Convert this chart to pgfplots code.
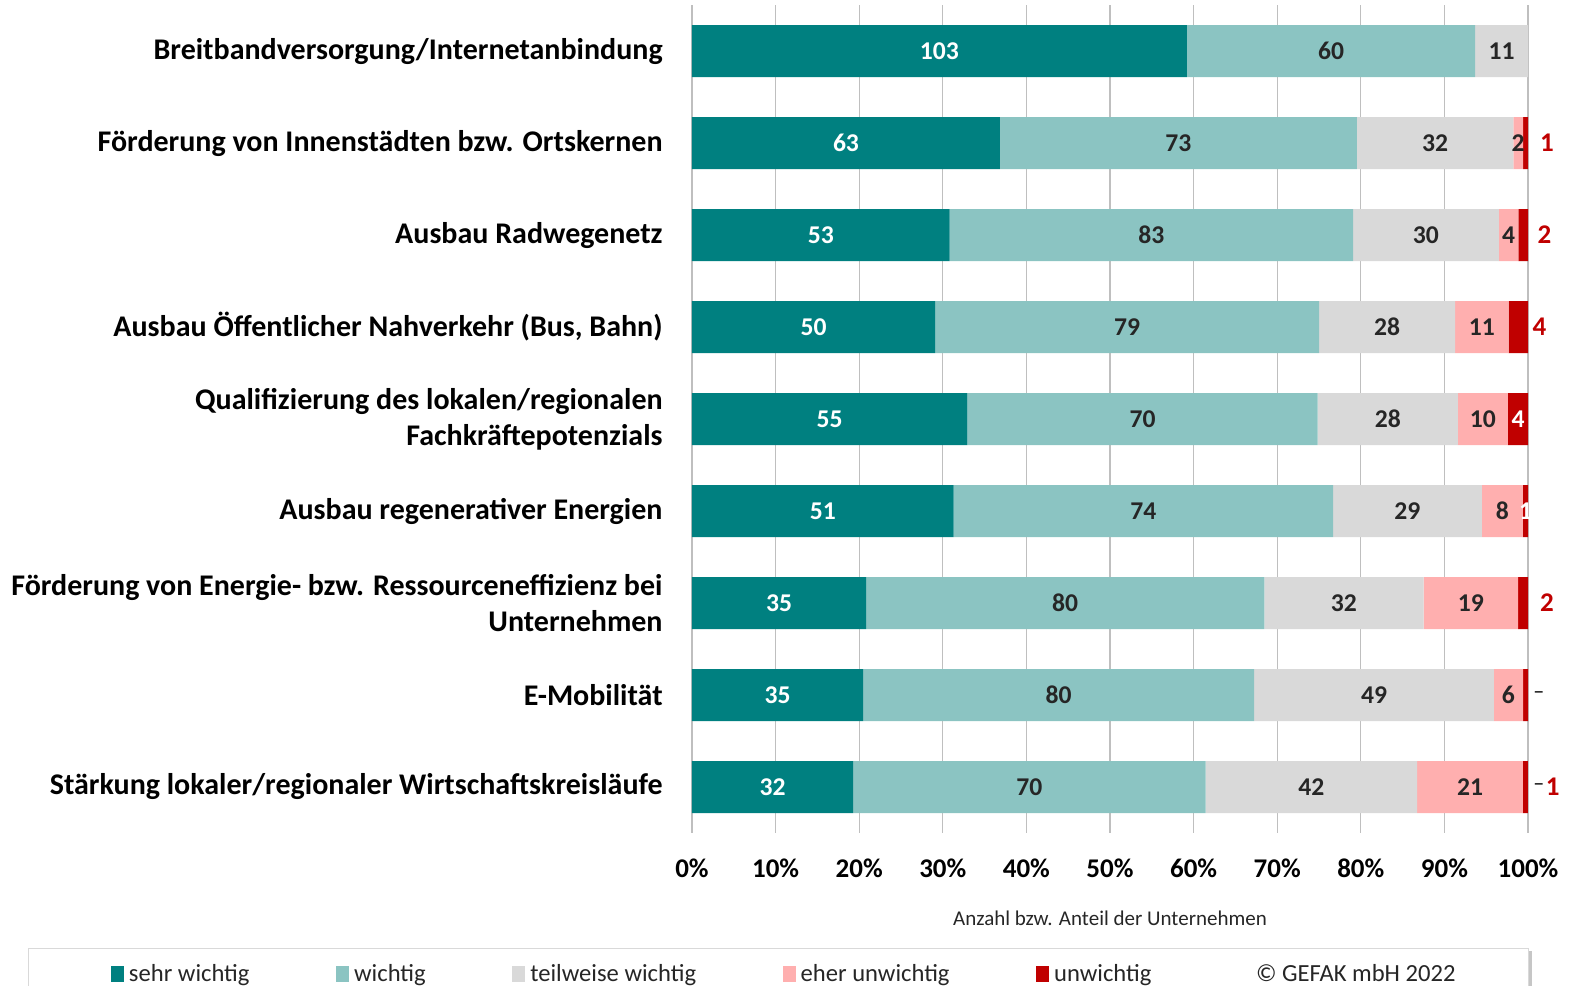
\documentclass[border=0pt]{standalone}
\usepackage{pgfplots}
\pgfplotsset{compat=1.18}
\usepackage{pgfplotstable}
\usepackage{fontspec}
\setmainfont{Carlito}
\definecolor{cA}{RGB}{0,128,128}
\definecolor{cB}{RGB}{139,196,194}
\definecolor{cC}{RGB}{217,217,217}
\definecolor{cD}{RGB}{255,175,175}
\definecolor{cE}{RGB}{192,0,0}
\definecolor{lab}{RGB}{38,38,38}

\pgfplotstableread{
y a b c d e
0 103 60 11 0 0
1 63 73 32 2 1
2 53 83 30 4 2
3 50 79 28 11 4
4 55 70 28 10 4
5 51 74 29 8 1
6 35 80 32 19 2
7 35 80 49 6 1
8 32 70 42 21 1
}\data

\pgfplotstableread{
y x lab
1 101.4 1
2 101.1 2
3 100.5 4
6 101.4 2
8 102.1 1
}\redlabs

\pgfplotstableread{
y x lab
4 98.8 4
5 99.7 1
}\whitelabs

\pgfplotstableread{
y x lab
7 100.6 –
8 100.6 –
}\dashlabs

\newcommand{\catf}{\fontsize{15}{18}\selectfont\bfseries}
\newcommand{\tickf}{\fontsize{13.5}{16}\selectfont\bfseries}
\newcommand{\datf}{\fontsize{12.8}{15}\selectfont\bfseries}
\newcommand{\pct}[1]{\thisrow{#1}*100/(\thisrow{a}+\thisrow{b}+\thisrow{c}+\thisrow{d}+\thisrow{e})}

\pgfplotsset{
  /pgf/number format/assume math mode=true,
  base/.style={
    scale only axis, width=418pt, height=414pt,
    xmin=0, xmax=100, ymin=-0.5, ymax=8.5, y dir=reverse,
    clip=false,
  },
}

\begin{document}
\begin{tikzpicture}
% legend frame
\fill[gray!45] (-330.5pt,-59pt) rectangle (420pt,-110pt);
\filldraw[fill=white, draw=gray!30] (-332pt,-57.5pt) rectangle (418pt,-110pt);

\begin{axis}[base,
  name=main, at={(0,0)}, anchor=south west,
  xbar stacked, bar width=26pt,
  axis line style={draw=none},
  major tick length=0pt,
  xtick={0,10,...,100},
  xticklabel={\pgfmathprintnumber{\tick}\%},
  xticklabel style={font=\tickf, text=black, anchor=center, yshift=-17.5pt},
  xmajorgrids, grid style={draw=gray!50, line width=0.6pt},
  ytick={0,...,8},
  yticklabels={
    {Breitbandversorgung/Internetanbindung},
    {Förderung von Innenstädten bzw. Ortskernen},
    {Ausbau Radwegenetz},
    {Ausbau Öffentlicher Nahverkehr (Bus, Bahn)},
    {Qualifizierung des lokalen/regionalen\\Fachkräftepotenzials},
    {Ausbau regenerativer Energien},
    {Förderung von Energie- bzw. Ressourceneffizienz bei\\Unternehmen},
    {E-Mobilität},
    {Stärkung lokaler/regionaler Wirtschaftskreisläufe},
  },
  yticklabel style={font=\catf, text=black, align=right, inner sep=0pt, xshift=-14.5pt},
  xlabel={Anzahl bzw. Anteil der Unternehmen},
  xlabel style={at={(axis description cs:0.5,0)}, anchor=center, yshift=-42.5pt,
    font=\fontsize{10.5}{12}\selectfont, text=lab},
  point meta=explicit,
  nodes near coords={\pgfmathfloatifflags{\pgfplotspointmeta}{0}{}{\pgfmathprintnumber{\pgfplotspointmeta}}},
  every node near coord/.append style={font=\datf, text=lab},
  legend columns=6,
  legend image code/.code={\fill[#1] (0pt,-4pt) rectangle (6.5pt,4pt);},
  legend style={draw=none, fill=none, inner sep=0pt, outer sep=0pt,
    at={(axis description cs:0,0)}, anchor=west, xshift=-290.5pt, yshift=-70.5pt,
    font=\fontsize{12.3}{14}\selectfont, text=lab,
    nodes={inner sep=1pt},
    /tikz/every odd column/.append style={column sep=1.5pt},
    /tikz/every even column/.append style={column sep=42.3pt}},
  legend cell align=left,
]
\addplot[fill=cA, draw=none, every node near coord/.append style={text=white}]
  table[y=y, x expr={\pct{a}}, meta=a]{\data};
\addlegendentry{sehr wichtig}
\addplot[fill=cB, draw=none] table[y=y, x expr={\pct{b}}, meta=b]{\data};
\addlegendentry{wichtig}
\addplot[fill=cC, draw=none] table[y=y, x expr={\pct{c}}, meta=c]{\data};
\addlegendentry{teilweise wichtig}
\addplot[fill=cD, draw=none] table[y=y, x expr={\pct{d}}, meta=d]{\data};
\addlegendentry{eher unwichtig}
\addplot[fill=cE, draw=none, nodes near coords={}] table[y=y, x expr={\pct{e}}, meta=e]{\data};
\addlegendentry{unwichtig}
\addlegendimage{legend image code/.code={\path[draw=none,fill=none] (0pt,-4pt) rectangle (6.5pt,4pt);}}
\addlegendentry{© GEFAK mbH 2022}
\end{axis}

\begin{axis}[base, at={(0,0)}, anchor=south west, hide axis]
\addplot[draw=none, mark=none, point meta=explicit symbolic, nodes near coords,
  every node near coord/.append style={font=\fontsize{13.5}{15}\selectfont\bfseries, text=cE, anchor=west, inner sep=0pt}]
  table[x=x, y=y, meta=lab]{\redlabs};
\addplot[draw=none, mark=none, point meta=explicit symbolic, nodes near coords,
  every node near coord/.append style={font=\datf, text=white, anchor=center, inner sep=0pt}]
  table[x=x, y=y, meta=lab]{\whitelabs};
\addplot[draw=none, mark=none, point meta=explicit symbolic, nodes near coords,
  every node near coord/.append style={font=\fontsize{11}{12}\selectfont, text=black, anchor=west, inner sep=0pt}]
  table[x=x, y=y, meta=lab]{\dashlabs};
\end{axis}

\pgfresetboundingbox
\path[use as bounding box] (-346pt,-76pt) rectangle (440.5pt,416.5pt);
\end{tikzpicture}
\end{document}
